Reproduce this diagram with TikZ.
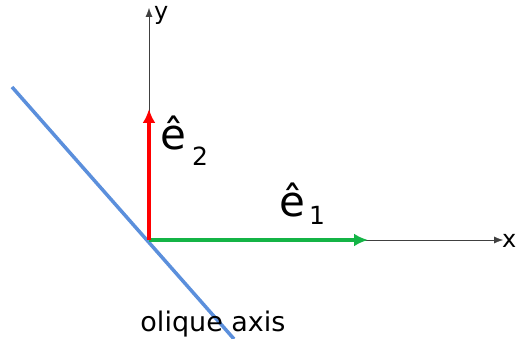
\documentclass[tikz,border=0pt]{standalone}
\usepackage{fontspec}
\setmainfont{DejaVu Sans}
\usetikzlibrary{arrows.meta}
\begin{document}
\begin{tikzpicture}[
		x=1pt, y=-1pt,
		axis/.style={draw=black!75, thin, -{Latex[length=9pt,width=7pt]}},
		basis/.style={line width=3.5pt, -{Latex[length=14pt,width=13pt]}},
		lbl/.style={inner sep=0pt, anchor=base west, font=\fontsize{24}{26}\selectfont},
		unitvec/.style={inner sep=0pt, anchor=base west, font=\fontsize{42}{44}\selectfont}
		]
		\useasboundingbox (0,0) rectangle (520,339);
		\coordinate (O) at (149,240);
		\coordinate (xend) at (503,240);
		\coordinate (yend) at (149,8);
		\coordinate (e1) at (368,240);
		\coordinate (e2) at (149,109);
		\coordinate (ob1) at (12,87);     % oblique line, top end
		\coordinate (ob2) at (234,339);   % oblique line, bottom end
		\draw[axis] (O) -- (xend);
		\draw[axis] (O) -- (yend);
		\draw[line width=3.5pt, draw={rgb,255:red,91;green,143;blue,220}] (ob1) -- (ob2);
		\draw[basis, draw={rgb,255:red,20;green,180;blue,70}, fill={rgb,255:red,20;green,180;blue,70}] (O) -- (e1);
		\draw[basis, draw=red, fill=red] (O) -- (e2);
		\node[lbl] (ylbl) at (154,20) {y};
		\node[lbl] (xlbl) at (502,248) {x};
		\node[unitvec] (e2lbl) at (160,150) {ê\hspace{6pt}\raisebox{-16pt}{\fontsize{25}{26}\selectfont 2}};
		\node[unitvec] (e1lbl) at (279,217) {ê\hspace{4pt}\raisebox{-8pt}{\fontsize{25}{26}\selectfont 1}};
		\node[lbl, anchor=base, font=\fontsize{27}{28}\selectfont] (oblbl) at (213,332) {olique axis};
	\end{tikzpicture}
\end{document}
